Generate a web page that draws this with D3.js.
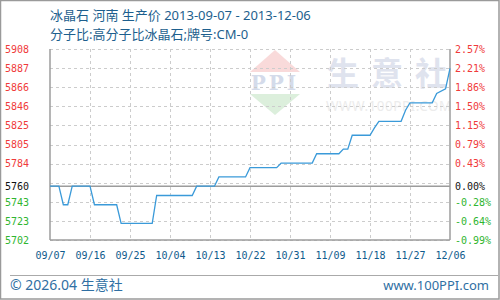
<!DOCTYPE html>
<html>
<head>
<meta charset="utf-8">
<script src="https://cdn.jsdelivr.net/npm/d3@7"></script>
<style>
    body { margin: 0; background: #fff; }
    svg { display: block; }
    .tick-label { font-family: 'DejaVu Sans Mono', monospace; font-size: 10px; }
    .head { font-family: 'Noto Sans', 'Noto Sans CJK SC', sans-serif; }
</style>
</head>
<body>
<div id="chart"></div>
<script>
// price breakpoints (daily series, flat between listed points)
const dates = ['2013-09-07', '2013-09-09', '2013-09-10', '2013-09-11', '2013-09-12', '2013-09-16',
    '2013-09-17', '2013-09-22', '2013-09-23', '2013-09-30', '2013-10-01', '2013-10-09', '2013-10-10',
    '2013-10-14', '2013-10-15', '2013-10-21', '2013-10-22', '2013-10-28', '2013-10-29', '2013-11-05',
    '2013-11-06', '2013-11-11', '2013-11-12', '2013-11-13', '2013-11-14', '2013-11-18', '2013-11-19',
    '2013-11-20', '2013-11-25', '2013-11-26', '2013-11-27', '2013-12-02', '2013-12-03', '2013-12-05',
    '2013-12-06'];
const prices = [5760, 5760, 5740, 5740, 5760, 5760,
    5740, 5740, 5720, 5720, 5750, 5750, 5760,
    5760, 5770, 5770, 5780, 5780, 5785, 5785,
    5795, 5795, 5800, 5800, 5815, 5815, 5823,
    5830, 5830, 5842, 5850, 5850, 5860, 5865,
    5887];

const baseValue = 5760;
const xTickDates = ['2013-09-07', '2013-09-16', '2013-09-25', '2013-10-04', '2013-10-13', '2013-10-22',
    '2013-10-31', '2013-11-09', '2013-11-18', '2013-11-27', '2013-12-06'];
const xTickLabels = ['09/07', '09/16', '09/25', '10/04', '10/13', '10/22', '10/31', '11/09', '11/18', '11/27', '12/06'];
const gridValues = [5702, 5722.6, 5743.2, 5763.8, 5784.4, 5805, 5825.6, 5846.2, 5866.8, 5887.4, 5908];
const labelValues = [5702, 5722.6, 5743.2, 5760, 5784.4, 5805, 5825.6, 5846.2, 5866.8, 5887.4, 5908];
const priceLabels = ['5702', '5723', '5743', '5760', '5784', '5805', '5825', '5846', '5866', '5887', '5908'];
const pctLabels = ['-0.99%', '-0.64%', '-0.28%', '0.00%', '0.43%', '0.79%', '1.15%', '1.50%', '1.86%', '2.21%', '2.57%'];

const titleText = '冰晶石 河南 生产价 2013-09-07 - 2013-12-06';
const subtitleText = '分子比:高分子比冰晶石;牌号:CM-0';

class PriceChart {
    constructor(_config) {
        this.config = {
            parentElement: _config.parentElement,
            containerWidth: _config.containerWidth || 500,
            containerHeight: _config.containerHeight || 300,
            margin: _config.margin || { top: 49, right: 50, bottom: 60, left: 50 }
        };
        this.initVis();
    }

    initVis() {
        let vis = this;
        const m = vis.config.margin;
        vis.width = vis.config.containerWidth - m.left - m.right;
        vis.height = vis.config.containerHeight - m.top - m.bottom;

        vis.svg = d3.select(vis.config.parentElement)
            .append('svg')
            .attr('width', vis.config.containerWidth)
            .attr('height', vis.config.containerHeight);

        // outer frame
        vis.svg.append('rect')
            .attr('x', 0.5).attr('y', 0.5)
            .attr('width', vis.config.containerWidth - 1.5)
            .attr('height', vis.config.containerHeight - 1.5)
            .attr('fill', 'none')
            .attr('stroke', '#9a9a9a')
            .attr('stroke-width', 1.5);

        vis.svg.append('text')
            .attr('class', 'head')
            .attr('x', 50).attr('y', 20)
            .attr('fill', '#1d5f8e')
            .style('font-size', '13px')
            .text(titleText);

        vis.svg.append('text')
            .attr('class', 'head')
            .attr('x', 50).attr('y', 39)
            .attr('fill', '#1d5f8e')
            .style('font-size', '13px')
            .text(subtitleText);

        // footer
        vis.svg.append('line')
            .attr('x1', 10).attr('x2', 498)
            .attr('y1', 275.5).attr('y2', 275.5)
            .attr('stroke', '#aaa');

        vis.svg.append('text')
            .attr('class', 'head')
            .attr('x', 10).attr('y', 290)
            .attr('fill', '#2f6fa3')
            .style('font-size', '14px')
            .text('© 2026.04 生意社');

        vis.svg.append('text')
            .attr('class', 'head')
            .attr('x', 489).attr('y', 290)
            .attr('text-anchor', 'end')
            .attr('fill', '#2f6fa3')
            .style('font-size', '13px')
            .text('www.100PPI.com');

        vis.chart = vis.svg.append('g')
            .attr('transform', `translate(${m.left},${m.top})`);

        vis.parseDate = d3.utcParse('%Y-%m-%d');

        vis.xScale = d3.scaleUtc()
            .domain([vis.parseDate(xTickDates[0]), vis.parseDate(xTickDates[xTickDates.length - 1])])
            .range([0, vis.width]);

        vis.yScale = d3.scaleLinear()
            .domain([gridValues[0], gridValues[gridValues.length - 1]])
            .range([vis.height, 0]);

        vis.drawWatermark();
        vis.updateVis();
    }

    drawWatermark() {
        let vis = this;
        const wm = vis.chart.append('g').attr('class', 'watermark');
        // logo: red triangle up, PPI band, green triangle down
        wm.append('path')
            .attr('d', 'M225,1 L250,23 L200,23 Z')
            .attr('fill', '#f9dada');
        wm.append('text')
            .attr('x', 225).attr('y', 41)
            .attr('text-anchor', 'middle')
            .attr('fill', '#d4dbea')
            .style('font-family', "'DejaVu Serif', serif")
            .style('font-weight', 'bold')
            .style('font-size', '20px')
            .style('letter-spacing', '3px')
            .text('PPI');
        wm.append('path')
            .attr('d', 'M200,45 L250,45 L225,66 Z')
            .attr('fill', '#dcefdc');
        wm.append('text')
            .attr('x', 277).attr('y', 36)
            .attr('textLength', 120)
            .attr('lengthAdjust', 'spacing')
            .attr('fill', '#dfe3ee')
            .style('font-family', "'Noto Sans CJK SC', sans-serif")
            .style('font-weight', 'bold')
            .style('font-size', '32px')
            .text('生意社');
        wm.append('text')
            .attr('x', 276).attr('y', 62)
            .attr('fill', '#ececec')
            .style('font-family', "'Noto Sans', sans-serif")
            .style('font-size', '13.5px')
            .style('letter-spacing', '0.5px')
            .text('WWW.100PPI.COM');
    }

    updateVis() {
        let vis = this;
        vis.data = dates.map((d, i) => ({ date: vis.parseDate(d), price: prices[i] }));
        vis.xValue = d => d.date;
        vis.yValue = d => d.price;
        vis.renderVis();
    }

    renderVis() {
        let vis = this;
        const xTicks = xTickDates.map(vis.parseDate);

        // dashed grid
        vis.chart.selectAll('.grid-h')
            .data(gridValues)
            .join('line')
            .attr('class', 'grid-h')
            .attr('x1', 0).attr('x2', vis.width)
            .attr('y1', d => Math.round(vis.yScale(d)) + 0.5)
            .attr('y2', d => Math.round(vis.yScale(d)) + 0.5)
            .attr('stroke', '#cccccc')
            .attr('stroke-dasharray', '3,3');

        vis.chart.selectAll('.grid-v')
            .data(xTicks.slice(1, -1))
            .join('line')
            .attr('class', 'grid-v')
            .attr('x1', d => Math.round(vis.xScale(d)) + 0.5)
            .attr('x2', d => Math.round(vis.xScale(d)) + 0.5)
            .attr('y1', 0).attr('y2', vis.height)
            .attr('stroke', '#cccccc')
            .attr('stroke-dasharray', '3,3');

        // base line and frame
        const frame = [
            [0, vis.yScale(baseValue), vis.width, vis.yScale(baseValue)],
            [0, 0, 0, vis.height],
            [vis.width, 0, vis.width, vis.height],
            [0, vis.height, vis.width, vis.height]
        ];
        vis.chart.selectAll('.frame')
            .data(frame)
            .join('line')
            .attr('class', 'frame')
            .attr('x1', d => d[0]).attr('y1', d => d[1])
            .attr('x2', d => d[2]).attr('y2', d => d[3])
            .attr('stroke', '#9c9c9c')
            .attr('stroke-width', 1.5);

        // price line
        const line = d3.line()
            .x(d => vis.xScale(vis.xValue(d)))
            .y(d => vis.yScale(vis.yValue(d)));

        vis.chart.append('path')
            .datum(vis.data)
            .attr('fill', 'none')
            .attr('stroke', '#3a9ad9')
            .attr('stroke-width', 1.3)
            .attr('d', line);

        const colorOf = d => d > baseValue ? '#f03a3a' : (d < baseValue ? '#2fb52f' : '#111');

        // left axis (price)
        const yAxisL = d3.axisLeft(vis.yScale)
            .tickValues(labelValues)
            .tickFormat((d, i) => priceLabels[i])
            .tickSize(0)
            .tickPadding(22);
        const gL = vis.chart.append('g').call(yAxisL);
        gL.select('.domain').remove();
        gL.selectAll('text')
            .attr('class', 'tick-label')
            .attr('text-anchor', 'start')
            .attr('x', -45)
            .attr('fill', d => colorOf(d));

        // right axis (percentage)
        const yAxisR = d3.axisRight(vis.yScale)
            .tickValues(labelValues)
            .tickFormat((d, i) => pctLabels[i])
            .tickSize(0)
            .tickPadding(5);
        const gR = vis.chart.append('g')
            .attr('transform', `translate(${vis.width},0)`)
            .call(yAxisR);
        gR.select('.domain').remove();
        gR.selectAll('text')
            .attr('class', 'tick-label')
            .attr('fill', d => colorOf(d));

        // bottom axis
        const xAxis = d3.axisBottom(vis.xScale)
            .tickValues(xTicks)
            .tickFormat((d, i) => xTickLabels[i])
            .tickSize(0)
            .tickPadding(12);
        const gX = vis.chart.append('g')
            .attr('transform', `translate(0,${vis.height})`)
            .call(xAxis);
        gX.select('.domain').remove();
        gX.selectAll('text')
            .attr('class', 'tick-label')
            .attr('fill', '#0f5a8c');
    }
}

new PriceChart({ parentElement: '#chart' });
</script>
</body>
</html>
